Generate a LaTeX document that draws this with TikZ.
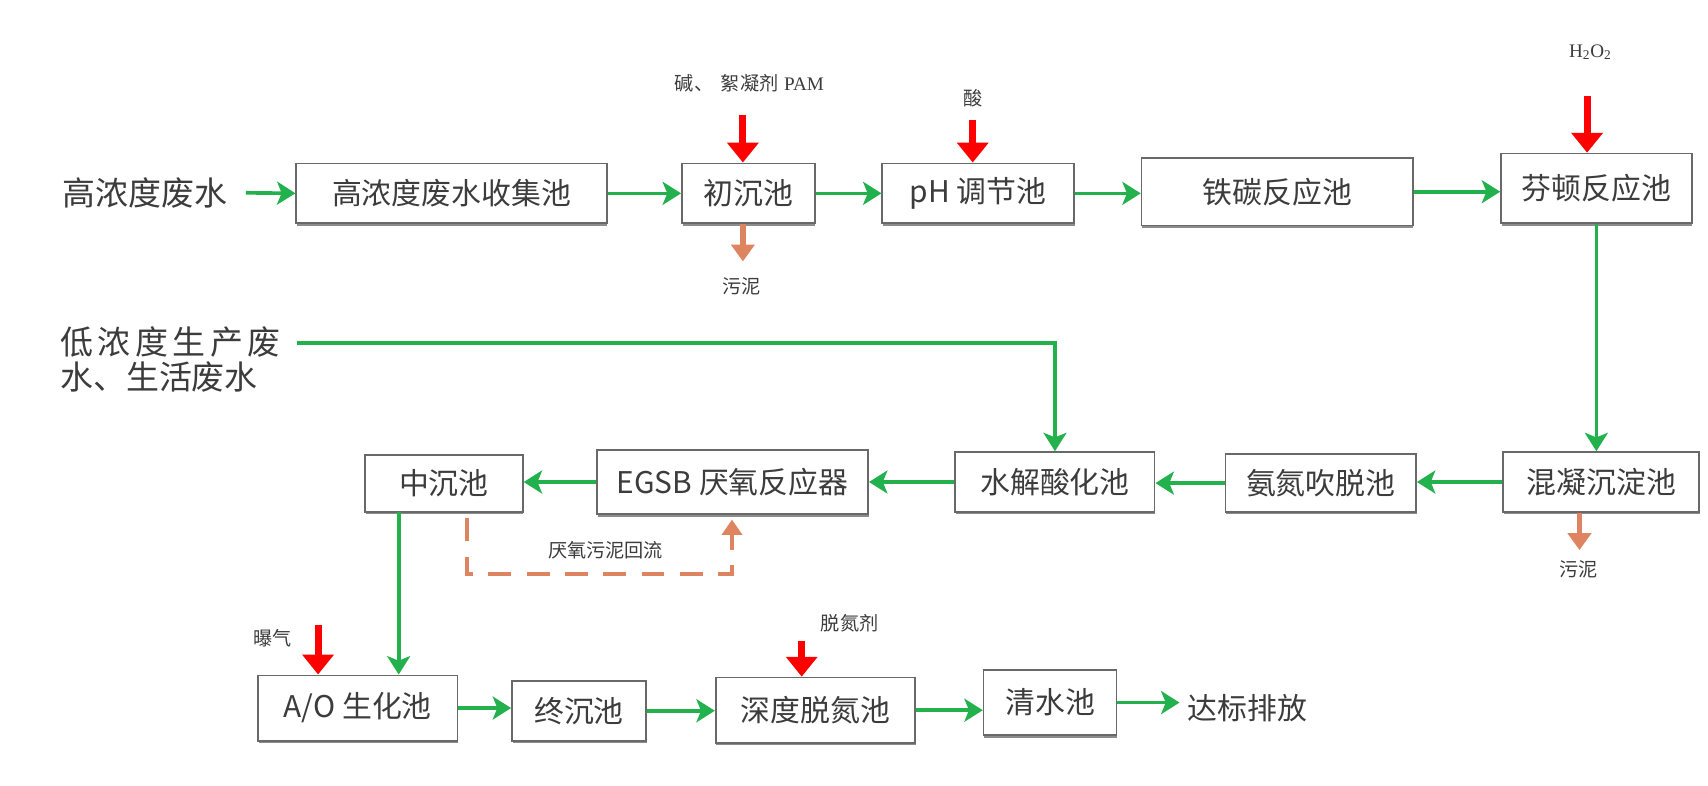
\documentclass[tikz,border=0pt]{standalone}
\usepackage{fontspec}
\setmainfont{Noto Sans CJK SC}
\newfontfamily\serifl{Liberation Serif}
\usetikzlibrary{arrows.meta,shadows,calc}
\definecolor{gline}{RGB}{34,177,76}
\definecolor{rline}{RGB}{255,0,0}
\definecolor{bline}{RGB}{222,132,96}
\definecolor{txt}{RGB}{60,60,60}
\definecolor{bord}{RGB}{105,105,105}
\newcommand\pb[6]{\node[pbox, minimum width={(#4-#2)*0.025cm}, minimum height={(#5-#3)*0.025cm}] (#1) at ({(#2+#4)/2},{(#3+#5)/2}) {#6};}
\begin{document}
\begin{tikzpicture}[x=0.025cm,y=-0.025cm,
 pbox/.style={draw=bord, line width=1.1pt, fill=white, inner sep=0pt, text=txt,
   font=\fontsize{19.5pt}{22pt}\selectfont,
   drop shadow={shadow xshift=0.4pt, shadow yshift=-1.6pt, fill=black!45, opacity=1}},
 mainlbl/.style={text=txt, font=\fontsize{19.5pt}{21.5pt}\selectfont, inner sep=0pt},
 biglbl/.style={text=txt, font=\fontsize{21.5pt}{21.5pt}\selectfont, inner sep=0pt},
 small/.style={text=txt, font=\fontsize{12.5pt}{14pt}\selectfont, inner sep=0pt},
 garrow/.style={draw=gline, line width=2.4pt, -{Stealth[length=12pt,width=15pt,inset=3pt]}},
 rarrow/.style={draw=rline, line width=4.5pt, -{Triangle[length=13pt,width=20pt]}},
 barrow/.style={draw=bline, line width=3.5pt, -{Triangle[length=11pt,width=15pt]}},
 bdash/.style={draw=bline, line width=2.6pt, dash pattern=on 15pt off 10pt, -{Triangle[length=10pt,width=13pt]}}
]
\fill[white] (0,0) rectangle (1568,721);
\useasboundingbox (0,0) rectangle (1568,721);

% row 1
\node[biglbl] (hw) at (133,177) {高浓度废水};
\pb{col}{272}{150}{557}{205}{高浓度废水收集池}
\pb{chu}{626}{150}{748}{205}{初沉池}
\pb{ph}{810}{150}{986}{205}{pH 调节池}
\pb{tie}{1048}{145}{1297}{207}{铁碳反应池}
\pb{fen}{1378}{141}{1553}{205}{芬顿反应池}

% row 2
\node[biglbl, anchor=north west, align=left] (low) at (55,300)
  {低\hspace{3pt}浓\hspace{3pt}度\hspace{3pt}生\hspace{3pt}产\hspace{3pt}废\\[1pt]水、生活废水};
\pb{hun}{1380}{415}{1560}{470}{混凝沉淀池}
\pb{an}{1125}{417}{1300}{470}{氨氮吹脱池}
\pb{shui}{877}{415}{1060}{470}{水解酸化池}
\pb{egsb}{548}{413}{797}{472}{EGSB 厌氧反应器}
\pb{zhong}{335}{418}{480}{470}{中沉池}

% row 3
\pb{ao}{237}{620}{420}{680}{A/O 生化池}
\pb{zc}{470}{625}{593}{680}{终沉池}
\pb{sd}{657}{622}{840}{682}{深度脱氮池}
\pb{qs}{903}{615}{1025}{675}{清水池}
\node[mainlbl] (db) at (1145,650) {达标排放};

% green flow
\draw[garrow] ([xshift=12pt]hw.east) -- (col.west);
\draw[garrow] (col.east) -- (chu.west);
\draw[garrow] (chu.east) -- (ph.west);
\draw[garrow] (ph.east) -- (tie.west |- ph.east);
\draw[garrow] (tie.east) -- (fen.west |- tie.east);
\draw[garrow] (fen.south) -- (fen.south |- hun.north);
\draw[garrow] (hun.west) -- (hun.west -| an.east);
\draw[garrow] (an.west) -- (an.west -| shui.east);
\draw[garrow] (shui.west) -- (shui.west -| egsb.east);
\draw[garrow] (egsb.west) -- (egsb.west -| zhong.east);
\coordinate (lowS) at (273,315);
\draw[garrow] (lowS) -| (shui.north);
\coordinate (zd) at (366,470);
\draw[garrow] (zd) -- (zd |- ao.north);
\draw[garrow] (ao.east) -- (ao.east -| zc.west);
\draw[garrow] (zc.east) -- (zc.east -| sd.west);
\draw[garrow] (sd.east) -- (sd.east -| qs.west);
\draw[garrow, shorten >=5pt] (qs.east) -- (qs.east -| db.west);

% red dosing arrows
\node[small] (jian) at (688,76) {碱、\hspace{5pt}絮凝剂\hspace{1pt} {\serifl PAM}};
\coordinate (jianA) at (682,106);
\draw[rarrow] (jianA) -- (jianA |- chu.north);
\node[small] (suan) at (893,90) {酸};
\coordinate (suanA) at (893,110);
\draw[rarrow] (suanA) -- (suanA |- ph.north);
\node[small] (h2o2) at (1460,48) {\serifl H\textsubscript{2}O\textsubscript{2}};
\coordinate (hA) at (1457,88);
\draw[rarrow] (hA) -- (hA |- fen.north);
\node[small] (bq) at (250,586) {曝气};
\coordinate (bqA) at (292,574);
\draw[rarrow] (bqA) -- (bqA |- ao.north);
\node[small] (tdj) at (780,572) {脱氮剂};
\coordinate (tdjA) at (736,588);
\draw[rarrow] (tdjA) -- (tdjA |- sd.north);

% sludge
\coordinate (s1) at (682,240);
\draw[barrow] (chu.south -| s1) -- (s1);
\node[small] (sl1) at (681,263) {污泥};
\coordinate (s2) at (1450,505);
\draw[barrow] (hun.south -| s2) -- (s2);
\node[small] (sl2) at (1449,523) {污泥};

% sludge return
\coordinate (d0) at (429,476);
\coordinate (d1) at (429,527);
\coordinate (d2) at (672,527);
\draw[bdash] (d0) -- (d1) -- (d2) -- ([yshift=-3pt]egsb.south -| d2);
\node[small] (hl) at (556,505) {厌氧污泥回流};
\end{tikzpicture}
\end{document}
